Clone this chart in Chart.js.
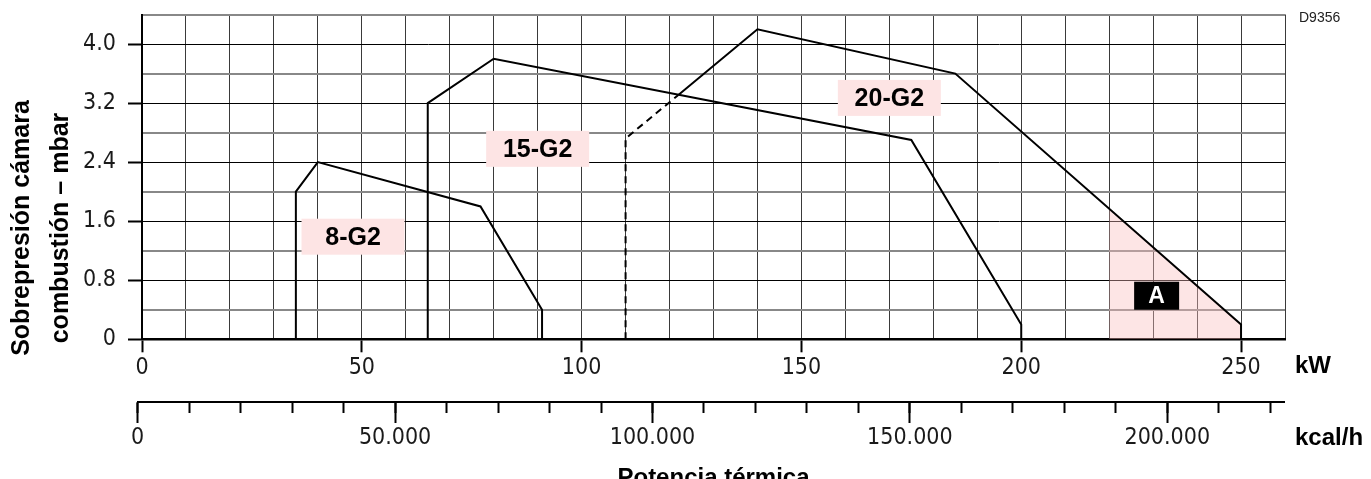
<!DOCTYPE html>
<html>
<head>
<meta charset="utf-8">
<script src="https://cdn.jsdelivr.net/npm/chart.js@4/dist/chart.umd.min.js"></script>
<style>
  body { margin:0; background:#fff; }
  canvas { display:block; }
</style>
</head>
<body>
<canvas id="myChart" width="1371" height="479"></canvas>
<script>
// curves (kW / mbar)
var kw8 = [35, 35, 40, 77, 91, 91];
var mbar8 = [0, 2.0, 2.4, 1.8, 0.4, 0];
var kw15 = [65, 65, 80, 175, 200, 200];
var mbar15 = [0, 3.2, 3.8, 2.7, 0.2, 0];
var kw20dash = [110, 110, 122];
var mbar20dash = [0, 2.72, 3.31];
var kw20 = [122, 140, 185, 250, 250];
var mbar20 = [3.31, 4.2, 3.6, 0.2, 0];
var kwA = [220, 250];
var mbarA = [1.77, 0.2];

// tick labels
var kwLabels = [0, 50, 100, 150, 200, 250];
var mbarLabels = [0, 0.8, 1.6, 2.4, 3.2, 4.0];
var mbarGrid = [0, 0.4, 0.8, 1.2, 1.6, 2.0, 2.4, 2.8, 3.2, 3.6, 4.0, 4.4];
var kcalLabels = [0, 50000, 100000, 150000, 200000];
var kcalMinor = [0, 10000, 20000, 30000, 40000, 50000, 60000, 70000, 80000, 90000, 100000,
  110000, 120000, 130000, 140000, 150000, 160000, 170000, 180000, 190000, 200000, 210000, 220000];

// model names in the plot
var models = ['8-G2', '15-G2', '20-G2', 'A'];
var modelKw = [48, 90, 170, 230.8];
var modelMbar = [1.39, 2.58, 3.27, 0.59];

var narrow = "'Liberation Sans Narrow', 'DejaVu Sans Condensed', Arial, sans-serif";
var sans = "'Liberation Sans', Arial, sans-serif";

function pts(xs, ys){
  var out = [];
  for (var i = 0; i < xs.length; i++) out.push({x: xs[i], y: ys[i]});
  return out;
}
function asTicks(vals){ return vals.map(function(v){ return {value: v}; }); }
function isMajorY(v){ return Math.round(v * 10) % 8 === 0; }
function dots(v){ return String(Math.round(v)).replace(/\B(?=(\d{3})+(?!\d))/g, '.'); }

// the kcal/h axis starts a little left of the kW axis
var kcalAxisFit = {
  id: 'kcalAxisFit',
  afterLayout: function(chart){
    ['x2', 'x3'].forEach(function(id){
      var s = chart.scales[id];
      s.left = 137.7; s.right = 1284.3; s.width = s.right - s.left;
      s.configure();
    });
  }
};

var texts = {
  id: 'texts',
  afterDraw: function(chart){
    var ctx = chart.ctx, xs = chart.scales.x, ys = chart.scales.y, ca = chart.chartArea;
    ctx.save();
    // model boxes
    for (var i = 0; i < models.length; i++) {
      var cx = xs.getPixelForValue(modelKw[i]), cy = ys.getPixelForValue(modelMbar[i]);
      var isA = models[i] === 'A';
      var w = isA ? 45 : 103, h = isA ? 28 : 36;
      ctx.fillStyle = isA ? '#000' : '#fde4e4';
      ctx.fillRect(cx - w / 2, cy - h / 2, w, h);
      ctx.fillStyle = isA ? '#fff' : '#000';
      ctx.font = 'bold ' + (isA ? 23 : 25) + 'px ' + sans;
      ctx.textAlign = 'center';
      ctx.textBaseline = 'middle';
      ctx.fillText(models[i], cx, cy + 1);
    }
    // unit names
    ctx.fillStyle = '#000';
    ctx.textAlign = 'left';
    ctx.font = 'bold 24px ' + sans;
    ctx.fillText('kW', ca.right + 10, 366);
    ctx.fillText('kcal/h', ca.right + 10, 438);
    ctx.font = '14px ' + sans;
    ctx.fillStyle = '#222';
    ctx.fillText('D9356', 1299, 18);
    // x title
    ctx.fillStyle = '#000';
    ctx.font = 'bold 24px ' + sans;
    ctx.textAlign = 'center';
    ctx.textBaseline = 'alphabetic';
    ctx.fillText('Potencia térmica', (ca.left + ca.right) / 2, 485);
    // y title
    ctx.font = 'bold 25px ' + sans;
    ctx.translate(0, 228);
    ctx.rotate(-Math.PI / 2);
    ctx.fillText('Sobrepresión cámara', 0, 29);
    ctx.fillText('combustión – mbar', 0, 68);
    ctx.restore();
  }
};

var line = { showLine: true, borderColor: '#000', borderWidth: 2, pointRadius: 0, fill: false, tension: 0 };

var ctx = document.getElementById('myChart');
var chart = new Chart(ctx, {
  type: 'scatter',
  data: {
    datasets: [
      Object.assign({ label: '8-G2', data: pts(kw8, mbar8) }, line),
      Object.assign({ label: '15-G2', data: pts(kw15, mbar15) }, line),
      Object.assign({ label: '20-G2', data: pts(kw20, mbar20) }, line),
      Object.assign({ label: '20-G2 dash', data: pts(kw20dash, mbar20dash), borderDash: [7, 5] }, line),
      { label: 'A', data: pts(kwA, mbarA), showLine: true, borderWidth: 0, pointRadius: 0,
        fill: 'origin', backgroundColor: 'rgba(250,190,190,0.4)', borderColor: 'rgba(0,0,0,0)' }
    ]
  },
  options: {
    responsive: false,
    animation: false,
    devicePixelRatio: 1,
    layout: { padding: { left: 0, top: 14.5, right: 86, bottom: 0 } },
    plugins: { legend: { display: false }, tooltip: { enabled: false } },
    scales: {
      x: {
        type: 'linear', min: 0, max: 260,
        afterFit: function(s){ s.height = 139.7; s.paddingLeft = 0; s.paddingRight = 0; },
        ticks: {
          stepSize: 10, autoSkip: false, maxRotation: 0, padding: 2, color: '#1a1a1a',
          font: { family: narrow, size: 23 },
          callback: function(v){ return kwLabels.indexOf(v) >= 0 ? String(v) : ''; }
        },
        grid: {
          color: '#3a3a3a', lineWidth: 1, tickLength: 13, tickWidth: 2,
          tickColor: function(c){ return kwLabels.indexOf(c.tick.value) >= 0 ? '#000' : 'rgba(0,0,0,0)'; }
        },
        border: { color: '#000', width: 2.5 }
      },
      y: {
        type: 'linear', min: 0, max: 4.4,
        afterFit: function(s){ s.width = 142; s.paddingTop = 0; s.paddingBottom = 0; },
        afterBuildTicks: function(s){ s.ticks = asTicks(mbarGrid); },
        ticks: {
          autoSkip: false, padding: 12, color: '#1a1a1a', font: { family: narrow, size: 23 },
          callback: function(v){
            if (mbarLabels.indexOf(Math.round(v * 10) / 10) < 0) return '';
            return v === 0 ? '0' : v.toFixed(1);
          }
        },
        grid: {
          color: function(c){ return isMajorY(c.tick.value) ? '#000' : '#888'; },
          lineWidth: function(c){ return isMajorY(c.tick.value) ? 1 : 2; },
          tickLength: 14, tickWidth: 2,
          tickColor: function(c){ return isMajorY(c.tick.value) ? '#000' : 'rgba(0,0,0,0)'; }
        },
        border: { color: '#000', width: 2 }
      },
      x2: {
        type: 'linear', position: { y: -0.8453 }, min: 0, max: 222730, bounds: 'data',
        afterBuildTicks: function(s){ s.ticks = asTicks(kcalMinor); },
        ticks: { display: false, autoSkip: false },
        grid: { drawOnChartArea: false, tickLength: 10, tickWidth: 2, tickColor: '#000' },
        border: { color: '#000', width: 2 }
      },
      x3: {
        type: 'linear', position: { y: -0.8453 }, min: 0, max: 222730, bounds: 'data',
        afterFit: function(s){ s.paddingLeft = 0; s.paddingRight = 0; },
        afterBuildTicks: function(s){ s.ticks = asTicks(kcalLabels); },
        ticks: {
          autoSkip: false, maxRotation: 0, padding: 2,
          color: '#1a1a1a', font: { family: narrow, size: 23 },
          callback: function(v){ return dots(v); }
        },
        grid: { drawOnChartArea: false, tickLength: 21, tickWidth: 2, tickColor: '#000' },
        border: { display: false }
      }
    }
  },
  plugins: [kcalAxisFit, texts]
});
</script>
</body>
</html>
